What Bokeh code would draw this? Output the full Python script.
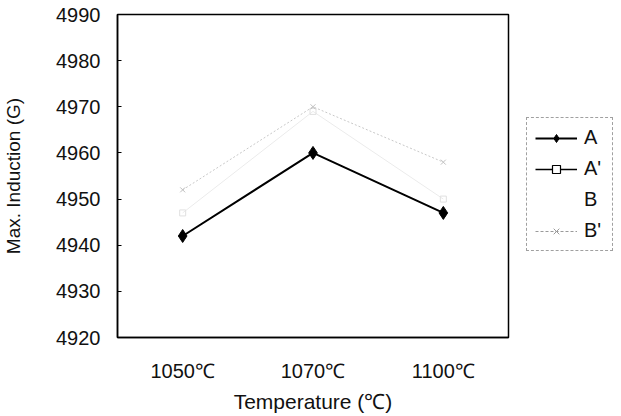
from bokeh.plotting import figure
from bokeh.layouts import row
from bokeh.models import FactorRange, Range1d, Legend, LegendItem, FixedTicker, ColumnDataSource
from bokeh.embed import file_html
from bokeh.resources import INLINE

# ---- data ----
temps = ["1050℃", "1070℃", "1100℃"]
a_vals = [4942, 4960, 4947]
a2_vals = [4947, 4969, 4950]
b_vals = []            # series B is not visible in the chart
b2_vals = [4952, 4970, 4958]
y_ticks = [4920, 4930, 4940, 4950, 4960, 4970, 4980, 4990]
series_names = ["A", "A'", "B", "B'"]

FONT = "Liberation Sans"

p = figure(width=518, height=416, x_range=FactorRange(factors=temps),
           y_range=Range1d(y_ticks[0], y_ticks[-1]),
           output_backend="svg", toolbar_location=None, title=None,
           min_border_left=115, min_border_right=10,
           min_border_top=14, min_border_bottom=79)

p.background_fill_color = "white"
p.border_fill_color = "white"
p.outline_line_color = "black"
p.outline_line_width = 1.5
p.xgrid.visible = False
p.ygrid.visible = False

# axes
p.yaxis.ticker = FixedTicker(ticks=y_ticks)
p.yaxis.axis_label = "Max. Induction (G)"
p.yaxis.major_tick_in = 4
p.yaxis.major_tick_out = 0
p.yaxis.minor_tick_line_color = None
p.yaxis.major_label_standoff = 17
p.yaxis.axis_label_standoff = 29
p.xaxis.axis_label = "Temperature (℃)"
p.xaxis.major_tick_in = 0
p.xaxis.major_tick_out = 0
p.xaxis.major_label_standoff = 22
p.xaxis.axis_label_standoff = 5
for ax in (p.xaxis, p.yaxis):
    ax.axis_line_color = "black"
    ax.axis_line_width = 1.5
    ax.major_tick_line_color = "black"
    ax.major_label_text_font = FONT
    ax.major_label_text_font_size = "20px"
    ax.major_label_text_color = "#111111"
    ax.axis_label_text_font = FONT
    ax.axis_label_text_font_style = "normal"
    ax.axis_label_text_color = "#111111"
p.yaxis.axis_label_text_font_size = "19px"
p.xaxis.axis_label_text_font_size = "21px"

# faint series (as they appear in the scan)
p.line(temps, a2_vals, line_color="#ebebeb", line_width=1)
p.scatter(temps, a2_vals, marker="square", size=6, fill_color=None, line_color="#e0e0e0")
p.line(temps, b2_vals, line_color="#c8c8c8", line_width=1, line_dash="2 2")
p.scatter(temps, b2_vals, marker="x", size=7, line_color="#c0c0c0")

# main series A
p.line(temps, a_vals, line_color="black", line_width=2)
p.scatter(temps, a_vals, marker="diamond", size=13, fill_color="black", line_color="black")

# ---- legend panel (separate small figure to the right) ----
lg = figure(width=103, height=416, x_range=Range1d(0, 1), y_range=Range1d(0, 1),
            output_backend="svg", toolbar_location=None, title=None,
            x_axis_type=None, y_axis_type=None, min_border=0)
lg.outline_line_color = None
lg.xgrid.visible = False
lg.ygrid.visible = False

def src(vals):
    # series values on an index axis; they fall far outside this panel's 0..1 range
    return ColumnDataSource(dict(x=list(range(len(vals))), y=vals))

r_al = lg.line("x", "y", source=src(a_vals), line_color="black", line_width=2)
r_am = lg.scatter("x", "y", source=src(a_vals), marker="diamond", size=12, fill_color="black", line_color="black")
r_a2l = lg.line("x", "y", source=src(a2_vals), line_color="black", line_width=1.5)
r_a2m = lg.scatter("x", "y", source=src(a2_vals), marker="square", size=10, fill_color="white", line_color="black", line_width=1.2)
r_b = lg.line("x", "y", source=src(b_vals), line_color="white", line_alpha=0)
r_b2l = lg.line("x", "y", source=src(b2_vals), line_color="#9a9a9a", line_width=1, line_dash="3 2")
r_b2m = lg.scatter("x", "y", source=src(b2_vals), marker="x", size=7, line_color="#9a9a9a")

legend = Legend(items=[
    LegendItem(label=series_names[0], renderers=[r_al, r_am]),
    LegendItem(label=series_names[1], renderers=[r_a2l, r_a2m]),
    LegendItem(label=series_names[2], renderers=[r_b]),
    LegendItem(label=series_names[3], renderers=[r_b2l, r_b2m]),
], location=(8, 86))
legend.label_text_font = FONT
legend.label_text_font_size = "20px"
legend.label_text_color = "#111111"
legend.glyph_width = 42
legend.glyph_height = 20
legend.label_height = 22
legend.label_standoff = 7
legend.padding = 8
legend.spacing = 8
legend.margin = 0
legend.border_line_color = "#444444"
legend.border_line_dash = "3 2"
legend.border_line_width = 1
legend.background_fill_alpha = 0
lg.add_layout(legend, "center")

layout = row(p, lg, spacing=0)
open("out.html", "w").write(file_html(layout, INLINE))
